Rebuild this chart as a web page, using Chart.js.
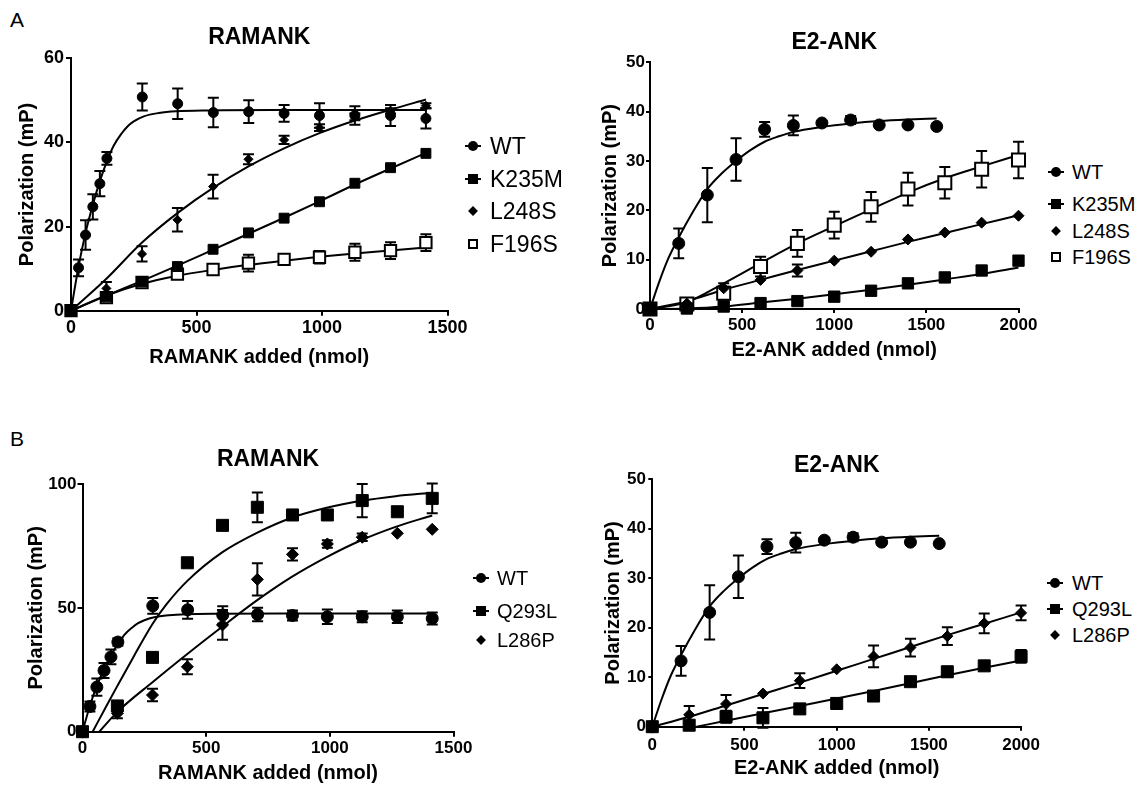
<!DOCTYPE html>
<html>
<head>
<meta charset="utf-8">
<script src="https://cdn.jsdelivr.net/npm/chart.js@4.4.1/dist/chart.umd.min.js"></script>
<style>
  html, body { margin: 0; padding: 0; background: #fff; }
  #fig { position: relative; width: 1145px; height: 785px; overflow: hidden; background: #fff;
         font-family: 'Liberation Sans', Arial, Helvetica, sans-serif; color: #000; }
  #fig canvas { position: absolute; }
  .tag { position: absolute; font-size: 21px; line-height: 1; }
  .lg-mark { position: absolute; transform: translate(-50%, -50%); width: 18px; height: 14px; }
  .lg-mark .stub { position: absolute; left: 1px; right: 1px; top: 6px; height: 2px; background: #000; }
  .lg-mark .shape { position: absolute; left: 50%; top: 50%; transform: translate(-50%, -50%); background: #000; box-sizing: border-box; }
  .lg-text { position: absolute; transform: translateY(-50%); line-height: 1; white-space: nowrap; }
</style>
</head>
<body>
<div id="fig">
  <div class="tag" style="left:10px; top:9px;">A</div>
  <div class="tag" style="left:10px; top:428px;">B</div>
  <canvas id="a-ramank"></canvas>
  <canvas id="a-e2"></canvas>
  <canvas id="b-ramank"></canvas>
  <canvas id="b-e2"></canvas>
</div>
<script>
// ---- RAMANK titration ----
const ramankXTicks = [0, 500, 1000, 1500];
const ramankATicks = [0, 20, 40, 60];
const ramankBTicks = [0, 50, 100];

const ramankWtX = [0, 30, 58, 87, 115, 143, 284, 425, 567, 708, 849, 990, 1131, 1273, 1414];
const ramankWtY = [0, 10.2, 18, 24.7, 30.2, 36.2, 50.8, 49.2, 47.1, 47.3, 46.9, 46.4, 46.4, 46.4, 45.7];
const ramankWtErr = [0, 2, 3.5, 3, 3, 1.5, 3.2, 3.6, 3.5, 2.7, 2, 2.9, 2.2, 2.5, 2.4];
const ramankWtFitX = [0, 30, 58, 87, 115, 143, 170, 200, 225, 250, 290, 350, 420, 550, 800, 1414];
const ramankWtFitY = [0, 10.5, 18.5, 25.2, 30.8, 35.5, 39.2, 42, 43.8, 45, 46.2, 47, 47.4, 47.6, 47.7, 47.7];

const ramankMutX = [0, 141, 283, 424, 566, 707, 849, 990, 1131, 1273, 1414];
const k235mRamY = [0, 3.3, 6.9, 10.5, 14.6, 18.5, 22, 25.9, 30.3, 34, 37.4];
const k235mRamFit = [0, 3.6, 7.1, 10.7, 14.5, 18.3, 22.1, 26, 30, 33.8, 37.5];
const l248sRamY = [0, 5.3, 13.5, 21.6, 29.5, 36, 40.6, 43.5, 46.1, 47.5, 48.7];
const l248sRamErr = [0, 1.5, 1.8, 2.8, 2.8, 1.2, 1, 0.8, 0.8, 0.6, 0.6];
const l248sRamFit = [0, 7.6, 16.2, 23.2, 29.2, 34.3, 38.6, 42.2, 45.2, 47.8, 50.2];
const f196sRamY = [0, 3.1, 6.7, 8.7, 9.8, 11.3, 12.2, 12.7, 13.9, 14.3, 16.2];
const f196sRamErr = [0, 0.6, 0.5, 0.8, 0.8, 2, 0.5, 1.5, 2, 2, 2];
const f196sRamFit = [0, 3.6, 6.4, 8.3, 9.7, 10.9, 11.9, 12.8, 13.6, 14.3, 15.0];

const q293lRamY = [0, 10.4, 30, 68.2, 83.3, 90.6, 87.5, 87.5, 93.3, 88.8, 94.2];
const q293lRamErr = [0, 1.5, 0, 1.5, 0, 6, 0, 1, 6.7, 0, 6];
const q293lRamFitX = [41, 100, 141, 205, 283, 340, 425, 566, 705, 846, 987, 1127, 1266, 1414];
const q293lRamFitY = [0, 11, 18.5, 30, 43.5, 51.5, 61, 72.5, 80.3, 86.4, 90.4, 93.2, 95.1, 96.5];
const l286pRamY = [0, 7.4, 14.8, 26.2, 43.1, 61.5, 71.6, 75.8, 78.5, 80.1, 81.7];
const l286pRamErr = [0, 2, 2.5, 3, 6, 6.5, 2.5, 1.5, 1.5, 0, 0];
const l286pRamFitX = [68, 141, 283, 425, 566, 705, 846, 987, 1127, 1266, 1414];
const l286pRamFitY = [0, 8, 20, 31.5, 42.5, 53, 62.5, 70.5, 77.3, 82.7, 87.3];

// ---- E2-ANK titration ----
const e2XTicks = [0, 500, 1000, 1500, 2000];
const e2YTicks = [0, 10, 20, 30, 40, 50];

const e2WtX = [0, 156, 311, 467, 622, 778, 933, 1089, 1244, 1400, 1556];
const e2WtY = [0, 13.3, 23.1, 30.3, 36.4, 37.2, 37.7, 38.3, 37.3, 37.3, 37.0];
const e2WtErr = [0, 3, 5.5, 4.3, 1.5, 2, 0.4, 0.8, 0, 0, 0];
const e2WtFitX = [0, 50, 100, 156, 230, 311, 390, 467, 545, 622, 700, 778, 933, 1089, 1244, 1400, 1556];
const e2WtFitY = [0, 5.5, 10.3, 14.5, 19.5, 24.3, 27.5, 30.0, 32.2, 33.9, 35.0, 35.9, 36.9, 37.6, 38.1, 38.4, 38.6];

const e2MutX = [0, 200, 400, 600, 800, 1000, 1200, 1400, 1600, 1800, 2000];
const k235mE2Y = [0, 0.1, 0.5, 1.2, 1.6, 2.5, 3.7, 5.2, 6.4, 7.8, 9.8];
const k235mE2Fit = [0, 0.1, 0.5, 1.3, 2.1, 3.0, 3.9, 4.9, 6.0, 7.1, 8.4];
const l248sE2Y = [0, 1.1, 4.2, 5.9, 7.8, 9.8, 11.6, 14.1, 15.5, 17.5, 18.9];
const l248sE2Err = [0, 0, 1, 0, 1.2, 0, 0, 0, 0, 0, 0];
const l248sE2Fit = [0, 1.6, 3.9, 5.9, 7.9, 9.8, 11.7, 13.6, 15.4, 17.2, 19.0];
const f196sE2Y = [0, 1.0, 3.2, 8.6, 13.3, 17, 20.7, 24.3, 25.6, 28.3, 30.2];
const f196sE2Err = [0, 0, 1.3, 2, 2.7, 2.7, 3, 3.3, 3.2, 3.7, 3.7];
const f196sE2Fit = [0, 1.4, 5.2, 9.3, 13.3, 16.8, 20.2, 23.6, 26.5, 28.9, 31.2];

const q293lE2Y = [0, 0.3, 2.0, 1.8, 3.6, 4.7, 6.2, 9.1, 11.1, 12.3, 14.2];
const q293lE2Err = [0, 0, 1.2, 2, 0, 1, 0, 0, 1, 0, 1.3];
const q293lE2FitX = [240, 400, 600, 800, 1000, 1200, 1400, 1600, 1800, 2000];
const q293lE2FitY = [0, 1.2, 2.7, 4.2, 5.7, 7.2, 8.8, 10.4, 11.9, 13.4];
const l286pE2Y = [0, 2.4, 4.6, 6.7, 9.3, 11.6, 14.2, 16, 18.3, 20.9, 23];
const l286pE2Err = [0, 1.8, 1.8, 0, 1.5, 0, 2.2, 1.8, 1.8, 2, 1.5];
const l286pE2Fit = [0, 2.0, 4.3, 6.6, 8.9, 11.3, 13.7, 16.1, 18.5, 20.8, 23.1];

const FONT = "'Liberation Sans', Arial, Helvetica, sans-serif";
const pts = (xs, ys) => xs.map((x, i) => ({ x, y: ys[i] }));

// error bars drawn under the markers, through the chart's own scales
const errorBars = {
  id: 'errorBars',
  beforeDatasetsDraw(chart) {
    const { ctx, scales: { x, y } } = chart;
    ctx.save();
    ctx.strokeStyle = '#000';
    ctx.lineWidth = 2;
    chart.data.datasets.forEach((ds) => {
      if (!ds.errors) return;
      ds.data.forEach((p, i) => {
        const e = ds.errors[i];
        if (!e) return;
        const px = x.getPixelForValue(p.x);
        const top = y.getPixelForValue(p.y + e);
        const bot = y.getPixelForValue(p.y - e);
        const cap = 5.5;
        ctx.beginPath();
        ctx.moveTo(px, top); ctx.lineTo(px, bot);
        ctx.moveTo(px - cap, top); ctx.lineTo(px + cap, top);
        ctx.moveTo(px - cap, bot); ctx.lineTo(px + cap, bot);
        ctx.stroke();
      });
    });
    ctx.restore();
  },
};

function markers(xs, ys, errs, shape, r) {
  const open = shape === 'open';
  return {
    type: 'scatter',
    data: pts(xs, ys),
    errors: errs,
    pointStyle: open ? 'rect' : shape,
    pointRadius: r,
    pointHoverRadius: r,
    pointBackgroundColor: open ? '#fff' : '#000',
    pointBorderColor: '#000',
    pointBorderWidth: open ? 2 : 1,
    clip: false,
    order: 0,
  };
}

function fit(xs, ys) {
  return {
    type: 'line',
    data: pts(xs, ys),
    borderColor: '#000',
    borderWidth: 2,
    pointRadius: 0,
    fill: false,
    cubicInterpolationMode: 'monotone',
    clip: false,
    order: 1,
  };
}

function legendShape(kind) {
  const s = {
    circle: 'width:10px;height:10px;border-radius:50%;',
    rect: 'width:10px;height:10px;',
    rectRot: 'width:7px;height:7px;transform:translate(-50%,-50%) rotate(45deg);',
    open: 'width:10px;height:10px;background:#fff;border:2px solid #000;',
  }[kind];
  const stub = kind === 'circle' || kind === 'rect' ? '<div class="stub"></div>' : '';
  return `${stub}<div class="shape" style="${s}"></div>`;
}

function makePanel(p) {
  const canvas = document.getElementById(p.id);
  canvas.width = p.box.w;
  canvas.height = p.box.h;
  canvas.style.left = p.box.left + 'px';
  canvas.style.top = p.box.top + 'px';

  const tickFont = { family: FONT, size: p.tickSize, weight: 'bold' };
  const titleFont = { family: FONT, size: 20, weight: 'bold' };
  const lineH = 23 * 1.2;
  const plain = (v) => String(v);

  new Chart(canvas, {
    type: 'scatter',
    data: { datasets: p.datasets },
    plugins: [errorBars],
    options: {
      responsive: false,
      animation: false,
      events: [],
      layout: {
        padding: {
          top: p.area.top - p.box.top - p.titleGap - lineH,
          right: p.box.left + p.box.w - p.area.right,
          left: 0,
          bottom: 0,
        },
      },
      plugins: {
        legend: { display: false },
        tooltip: { enabled: false },
        title: {
          display: true,
          text: p.title,
          fullSize: false,
          color: '#000',
          font: { family: FONT, size: 23, weight: 'bold' },
          padding: { top: 0, bottom: p.titleGap },
        },
      },
      scales: {
        x: {
          type: 'linear',
          min: p.xTicks[0],
          max: p.xTicks[p.xTicks.length - 1],
          ticks: { stepSize: p.xTicks[1] - p.xTicks[0], font: tickFont, color: '#000', padding: p.xTickPad, maxRotation: 0, callback: plain },
          grid: { display: true, drawOnChartArea: false, drawTicks: true, tickLength: p.tickLen, color: '#000', lineWidth: 2 },
          border: { display: true, color: '#000', width: 2 },
          title: { display: true, text: p.xTitle, font: titleFont, color: '#000', padding: 0 },
          afterFit: (s) => { s.height = p.box.top + p.box.h - p.area.bottom; },
        },
        y: {
          type: 'linear',
          min: p.yTicks[0],
          max: p.yTicks[p.yTicks.length - 1],
          ticks: { stepSize: p.yTicks[1] - p.yTicks[0], font: tickFont, color: '#000', padding: p.yTickPad, callback: plain },
          grid: { display: true, drawOnChartArea: false, drawTicks: true, tickLength: p.tickLen, color: '#000', lineWidth: 2 },
          border: { display: true, color: '#000', width: 2 },
          title: { display: true, text: 'Polarization (mP)', font: titleFont, color: '#000', padding: { top: p.yTitlePad, bottom: 0 } },
          afterFit: (s) => { s.width = p.area.left - p.box.left; },
        },
      },
    },
  });

  const fig = document.getElementById('fig');
  p.legend.forEach((item, i) => {
    const y = p.legendY[i];
    const mk = document.createElement('div');
    mk.className = 'lg-mark';
    mk.style.left = p.legendMarkX + 'px';
    mk.style.top = y + 'px';
    mk.innerHTML = legendShape(item.shape);
    fig.appendChild(mk);
    const tx = document.createElement('div');
    tx.className = 'lg-text';
    tx.style.left = p.legendTextX + 'px';
    tx.style.top = y + 'px';
    tx.style.fontSize = p.legendSize + 'px';
    tx.textContent = item.label;
    fig.appendChild(tx);
  });
}

makePanel({
  id: 'a-ramank', title: 'RAMANK', xTitle: 'RAMANK added (nmol)',
  box: { left: 0, top: 0, w: 470, h: 369 },
  area: { left: 71, right: 447.5, top: 58.3, bottom: 310.7 },
  titleGap: 6.5, yTitlePad: 15.3, tickSize: 18, tickLen: 5, xTickPad: 1.8, yTickPad: 2,
  xTicks: ramankXTicks, yTicks: ramankATicks,
  datasets: [
    markers(ramankWtX, ramankWtY, ramankWtErr, 'circle', 5),
    markers(ramankMutX, k235mRamY, null, 'rect', 7),
    markers(ramankMutX, l248sRamY, l248sRamErr, 'rectRot', 4.5),
    markers(ramankMutX, f196sRamY, f196sRamErr, 'open', 8),
    fit(ramankWtFitX, ramankWtFitY),
    fit(ramankMutX, k235mRamFit),
    fit(ramankMutX, l248sRamFit),
    fit(ramankMutX, f196sRamFit),
  ],
  legend: [
    { label: 'WT', shape: 'circle' }, { label: 'K235M', shape: 'rect' },
    { label: 'L248S', shape: 'rectRot' }, { label: 'F196S', shape: 'open' },
  ],
  legendMarkX: 473, legendTextX: 490, legendY: [146, 178.5, 211, 243.5], legendSize: 23,
});

makePanel({
  id: 'a-e2', title: 'E2-ANK', xTitle: 'E2-ANK added (nmol)',
  box: { left: 590, top: 0, w: 452, h: 362 },
  area: { left: 650, right: 1018.5, top: 62.3, bottom: 309 },
  titleGap: 6.2, yTitlePad: 8.7, tickSize: 17, tickLen: 4, xTickPad: 1.8, yTickPad: 1,
  xTicks: e2XTicks, yTicks: e2YTicks,
  datasets: [
    markers(e2WtX, e2WtY, e2WtErr, 'circle', 6),
    markers(e2MutX, k235mE2Y, null, 'rect', 8),
    markers(e2MutX, l248sE2Y, l248sE2Err, 'rectRot', 5.5),
    markers(e2MutX, f196sE2Y, f196sE2Err, 'open', 9.2),
    fit(e2WtFitX, e2WtFitY),
    fit(e2MutX, k235mE2Fit),
    fit(e2MutX, l248sE2Fit),
    fit(e2MutX, f196sE2Fit),
  ],
  legend: [
    { label: 'WT', shape: 'circle' }, { label: 'K235M', shape: 'rect' },
    { label: 'L248S', shape: 'rectRot' }, { label: 'F196S', shape: 'open' },
  ],
  legendMarkX: 1056, legendTextX: 1072, legendY: [172, 204, 231, 257], legendSize: 20,
});

makePanel({
  id: 'b-ramank', title: 'RAMANK', xTitle: 'RAMANK added (nmol)',
  box: { left: 10, top: 420, w: 465, h: 365 },
  area: { left: 82.5, right: 453.5, top: 484, bottom: 731.7 },
  titleGap: 10.2, yTitlePad: 14.7, tickSize: 17, tickLen: 5, xTickPad: 1.4, yTickPad: 1,
  xTicks: ramankXTicks, yTicks: ramankBTicks,
  datasets: [
    markers(ramankWtX, ramankWtY, ramankWtErr, 'circle', 6),
    markers(ramankMutX, q293lRamY, q293lRamErr, 'rect', 8.5),
    markers(ramankMutX, l286pRamY, l286pRamErr, 'rectRot', 6),
    fit(ramankWtFitX, ramankWtFitY),
    fit(q293lRamFitX, q293lRamFitY),
    fit(l286pRamFitX, l286pRamFitY),
  ],
  legend: [
    { label: 'WT', shape: 'circle' }, { label: 'Q293L', shape: 'rect' }, { label: 'L286P', shape: 'rectRot' },
  ],
  legendMarkX: 481, legendTextX: 497, legendY: [578, 611, 640], legendSize: 20,
});

makePanel({
  id: 'b-e2', title: 'E2-ANK', xTitle: 'E2-ANK added (nmol)',
  box: { left: 590, top: 420, w: 454, h: 360 },
  area: { left: 652.3, right: 1021.7, top: 479.3, bottom: 726.7 },
  titleGap: 0, yTitlePad: 11.3, tickSize: 17, tickLen: 4, xTickPad: 4, yTickPad: 2.3,
  xTicks: e2XTicks, yTicks: e2YTicks,
  datasets: [
    markers(e2WtX, e2WtY, e2WtErr, 'circle', 6),
    markers(e2MutX, q293lE2Y, q293lE2Err, 'rect', 8.5),
    markers(e2MutX, l286pE2Y, l286pE2Err, 'rectRot', 5.5),
    fit(e2WtFitX, e2WtFitY),
    fit(q293lE2FitX, q293lE2FitY),
    fit(e2MutX, l286pE2Fit),
  ],
  legend: [
    { label: 'WT', shape: 'circle' }, { label: 'Q293L', shape: 'rect' }, { label: 'L286P', shape: 'rectRot' },
  ],
  legendMarkX: 1055, legendTextX: 1072, legendY: [583, 609, 635], legendSize: 20,
});
</script>
</body>
</html>
